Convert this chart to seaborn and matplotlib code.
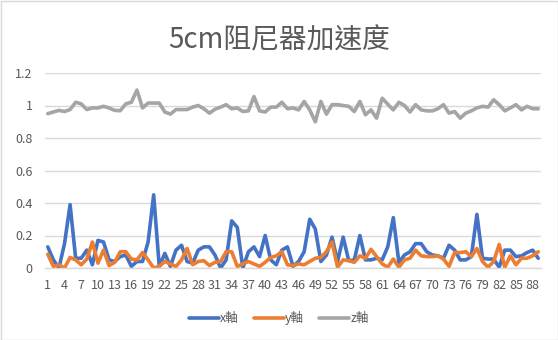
import numpy as np
import pandas as pd
import matplotlib
matplotlib.use("Agg")
import matplotlib.pyplot as plt
import seaborn as sns
from matplotlib.patches import Rectangle
from matplotlib.lines import Line2D

# Acceleration samples of the 5 cm damper, one value per sample index
x_axis = [0.13, 0.05, 0.00, 0.15, 0.39, 0.06, 0.06, 0.11, 0.02, 0.17,
          0.16, 0.05, 0.04, 0.07, 0.08, 0.01, 0.04, 0.04, 0.16, 0.45,
          0.01, 0.09, 0.01, 0.11, 0.14, 0.04, 0.03, 0.11, 0.13, 0.13,
          0.08, 0.00, 0.05, 0.29, 0.25, 0.00, 0.10, 0.13, 0.07, 0.20,
          0.05, 0.02, 0.11, 0.13, 0.01, 0.04, 0.10, 0.30, 0.24, 0.04,
          0.08, 0.19, 0.04, 0.19, 0.045, 0.05, 0.20, 0.05, 0.05, 0.06,
          0.05, 0.13, 0.31, 0.035, 0.08, 0.10, 0.15, 0.15, 0.10, 0.08,
          0.075, 0.06, 0.14, 0.11, 0.05, 0.05, 0.07, 0.33, 0.06, 0.055,
          0.055, 0.005, 0.11, 0.11, 0.07, 0.075, 0.095, 0.11, 0.06]
y_axis = [0.085, 0.01, 0.02, 0.00, 0.065, 0.05, 0.02, 0.055, 0.16, 0.03,
          0.11, 0.015, 0.035, 0.10, 0.10, 0.055, 0.05, 0.095, 0.05, 0.00,
          0.01, 0.04, 0.025, 0.01, 0.05, 0.12, 0.02, 0.04, 0.045, 0.015,
          0.035, 0.04, 0.10, 0.10, 0.01, 0.025, 0.04, 0.025, 0.01, 0.035,
          0.065, 0.075, 0.10, 0.02, 0.015, 0.025, 0.02, 0.04, 0.06, 0.065,
          0.10, 0.16, 0.005, 0.05, 0.045, 0.035, 0.075, 0.06, 0.115, 0.07,
          0.025, 0.005, 0.055, 0.005, 0.05, 0.06, 0.11, 0.075, 0.07, 0.07,
          0.075, 0.055, 0.01, 0.095, 0.095, 0.10, 0.07, 0.12, 0.04, 0.005,
          0.04, 0.145, 0.005, 0.075, 0.02, 0.06, 0.06, 0.075, 0.10]
z_axis = [0.95, 0.96, 0.97, 0.963, 0.975, 1.02, 1.01, 0.975, 0.985, 0.985,
          0.995, 0.985, 0.97, 0.968, 1.01, 1.02, 1.095, 0.985, 1.015, 1.015,
          1.015, 0.96, 0.947, 0.975, 0.975, 0.975, 0.99, 1.0, 0.98, 0.953,
          0.977, 0.99, 1.005, 0.98, 0.985, 0.963, 0.967, 1.055, 0.967, 0.96,
          0.99, 0.99, 1.02, 0.98, 0.985, 0.973, 1.025, 0.973, 0.90, 1.025,
          0.947, 1.005, 1.005, 1.0, 0.995, 0.963, 1.025, 0.943, 0.973, 0.922,
          1.045, 1.008, 0.973, 1.02, 1.0, 0.96, 1.005, 0.973, 0.967, 0.967,
          0.98, 1.005, 0.953, 0.963, 0.922, 0.953, 0.967, 0.985, 0.995, 0.99,
          1.035, 1.005, 0.967, 0.985, 1.005, 0.973, 0.995, 0.98, 0.98]
series_names = ["x軸", "y軸", "z軸"]
series_colors = ["#4472C4", "#ED7D31", "#A5A5A5"]
y_ticks = [0, 0.2, 0.4, 0.6, 0.8, 1.0, 1.2]
y_tick_labels = ["0", "0.2", "0.4", "0.6", "0.8", "1", "1.2"]
title_text = "5cm阻尼器加速度"

idx = np.arange(1, len(x_axis) + 1)
df = pd.DataFrame({
    "sample": np.tile(idx, 3),
    "value": np.concatenate([x_axis, y_axis, z_axis]),
    "series": np.repeat(series_names, len(idx)),
})

sns.set_theme(style="white")
plt.rcParams["font.family"] = ["Noto Sans CJK TC", "DejaVu Sans"]
text_color = "#595959"
grid_color = "#D9D9D9"
line_w = 2.6

fig = plt.figure(figsize=(5.58, 3.40), dpi=100)
ax = fig.add_axes([45 / 558, 1 - 268 / 340, 496 / 558, 195 / 340])

sns.lineplot(data=df, x="sample", y="value", hue="series",
             palette=dict(zip(series_names, series_colors)),
             linewidth=line_w, ax=ax, legend=False, solid_capstyle="round",
             solid_joinstyle="round")

ax.set_xlim(0.5, len(idx) + 0.5)
ax.set_ylim(0, 1.2)
ax.set_yticks(y_ticks)
ax.set_yticklabels(y_tick_labels)
ax.set_xticks(idx[::3])
ax.set_xticklabels([str(i) for i in idx[::3]])
ax.set_xlabel("")
ax.set_ylabel("")
ax.grid(axis="y", color=grid_color, linewidth=1.0)
ax.set_axisbelow(True)
for side in ["top", "right", "left"]:
    ax.spines[side].set_visible(False)
ax.spines["bottom"].set_color(grid_color)
ax.spines["bottom"].set_linewidth(1.0)
ax.tick_params(axis="both", length=0, colors=text_color, labelsize=9)
ax.tick_params(axis="x", pad=8)
ax.tick_params(axis="y", pad=9)

fig.text(0.5, 1 - 40 / 340, title_text, ha="center", va="center",
         fontsize=20, color=text_color)

handles = [Line2D([0], [0], color=c, linewidth=line_w) for c in series_colors]
fig.legend(handles, series_names, loc="center", bbox_to_anchor=(0.5, 1 - 318 / 340),
           ncol=3, frameon=False, fontsize=9, labelcolor=text_color,
           handlelength=2.4, handletextpad=0.1, columnspacing=1.2)

fig.patches.append(Rectangle((0.5 / 558, 0.5 / 340), 1 - 1 / 558, 1 - 1 / 340,
                             transform=fig.transFigure, fill=False,
                             edgecolor=grid_color, linewidth=1.0))

fig.savefig("out.png", dpi=100)
